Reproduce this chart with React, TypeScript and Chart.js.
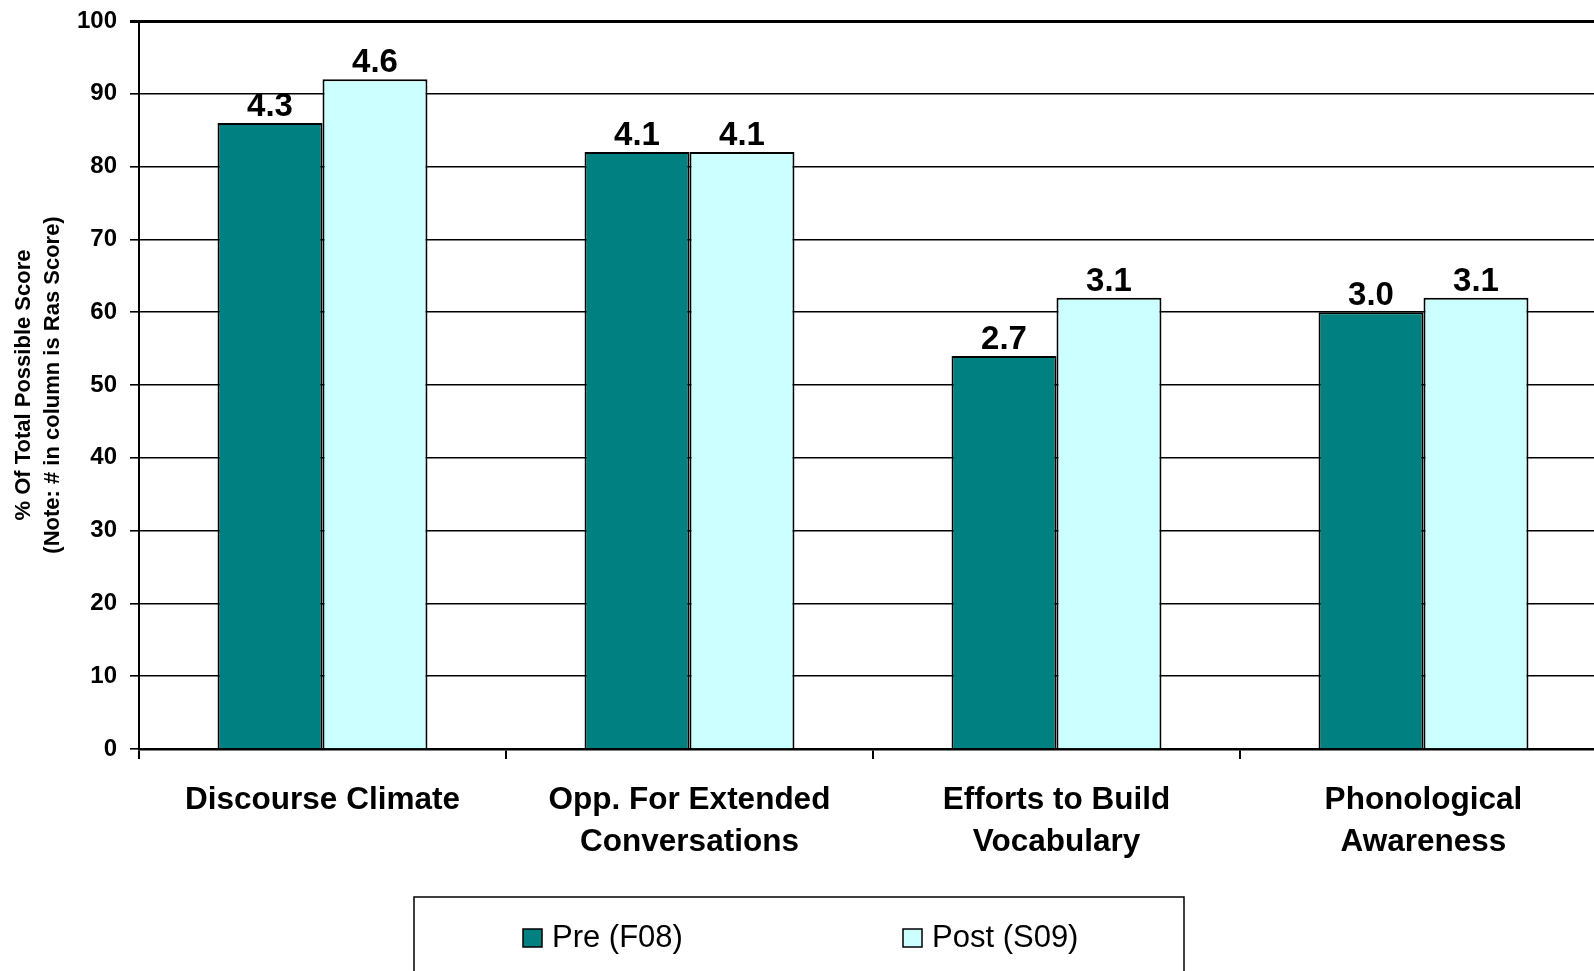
import React, { useEffect, useRef } from "react";
import { Chart, registerables } from "chart.js";

Chart.register(...registerables);

const categories: (string | string[])[] = [
  "Discourse Climate",
  ["Opp. For Extended", "Conversations"],
  ["Efforts to Build", "Vocabulary"],
  ["Phonological", "Awareness"],
];
const seriesNames = ["Pre (F08)", "Post (S09)"];
const preValues = [86, 82, 54, 60];
const postValues = [92, 82, 62, 62];
const preScoreLabels = ["4.3", "4.1", "2.7", "3.0"];
const postScoreLabels = ["4.6", "4.1", "3.1", "3.1"];
const yAxisTitle = ["% Of Total Possible Score", "(Note: # in column is Ras Score)"];
const yMin = 0;
const yMax = 100;
const yStep = 10;

const FONT = '"Liberation Sans", Arial, Helvetica, sans-serif';
const PRE_COLOR = "#008080";
const POST_COLOR = "#CCFFFF";

const valueLabelPlugin = {
  id: "valueLabels",
  afterDatasetsDraw(chart: any) {
    const ctx = chart.ctx;
    ctx.save();
    ctx.font = `bold 33px ${FONT}`;
    ctx.fillStyle = "#000";
    ctx.textAlign = "center";
    ctx.textBaseline = "alphabetic";
    chart.data.datasets.forEach((ds: any, i: number) => {
      const meta = chart.getDatasetMeta(i);
      meta.data.forEach((el: any, j: number) => {
        ctx.fillText(ds.scoreLabels[j], el.x, el.y - 7);
      });
    });
    ctx.restore();
  },
};

const boxedLegendPlugin = {
  id: "boxedLegend",
  afterDraw(chart: any) {
    const ctx = chart.ctx;
    ctx.save();
    const left = 414;
    const top = 897;
    const right = 1184;
    ctx.strokeStyle = "#000";
    ctx.lineWidth = 1.5;
    ctx.strokeRect(left, top, right - left, 120);
    ctx.font = `31px ${FONT}`;
    ctx.textBaseline = "middle";
    ctx.textAlign = "left";
    const cy = 938;
    chart.data.datasets.forEach((ds: any, i: number) => {
      const sx = 523 + i * 380;
      ctx.fillStyle = ds.backgroundColor;
      ctx.fillRect(sx, cy - 9, 19, 18);
      ctx.strokeStyle = "#000";
      ctx.lineWidth = 1.5;
      ctx.strokeRect(sx, cy - 9, 19, 18);
      ctx.fillStyle = "#000";
      ctx.fillText(ds.label, sx + 29, cy);
    });
    ctx.restore();
  },
};

export default function App() {
  const canvasRef = useRef<HTMLCanvasElement | null>(null);

  useEffect(() => {
    document.body.style.margin = "0";
    document.body.style.overflow = "hidden";
    const canvas = canvasRef.current;
    if (!canvas) return;
    const chart = new Chart(canvas, {
      type: "bar",
      data: {
        labels: categories as any,
        datasets: [
          {
            label: seriesNames[0],
            data: preValues,
            backgroundColor: PRE_COLOR,
            borderColor: "#000",
            borderWidth: 2,
            scoreLabels: preScoreLabels,
          } as any,
          {
            label: seriesNames[1],
            data: postValues,
            backgroundColor: POST_COLOR,
            borderColor: "#000",
            borderWidth: 2,
            scoreLabels: postScoreLabels,
          } as any,
        ],
      },
      options: {
        responsive: false,
        animation: false,
        devicePixelRatio: 1,
        layout: { padding: { top: 21, right: 13, left: 0, bottom: 0 } },
        datasets: {
          bar: { categoryPercentage: 0.572, barPercentage: 1.0 },
        },
        plugins: {
          legend: { display: false },
          tooltip: { enabled: false },
          title: { display: false },
        },
        scales: {
          x: {
            type: "category",
            grid: {
              display: true,
              drawOnChartArea: false,
              drawTicks: true,
              tickLength: 10,
              color: "#000",
              lineWidth: 2,
              offset: true,
            },
            border: { display: true, color: "#000", width: 2.5 },
            ticks: {
              color: "#000",
              padding: 20,
              maxRotation: 0,
              autoSkip: false,
              font: { family: FONT, size: 31.5, weight: "bold", lineHeight: "42px" } as any,
            },
            afterFit: (scale: any) => {
              scale.height = 222;
              scale.paddingLeft = 0;
              scale.paddingRight = 0;
            },
          },
          y: {
            type: "linear",
            min: yMin,
            max: yMax,
            ticks: {
              stepSize: yStep,
              color: "#000",
              padding: 13,
              font: { family: FONT, size: 24, weight: "bold" },
            },
            grid: {
              color: "#000",
              lineWidth: (ctx: any) => (ctx.tick && ctx.tick.value === yMax ? 3 : 1.6),
              drawTicks: true,
              tickLength: 9,
            },
            border: { display: true, color: "#000", width: 2 },
            title: {
              display: true,
              text: yAxisTitle,
              color: "#000",
              padding: { top: 9, bottom: 0 },
              font: { family: FONT, size: 22, weight: "bold", lineHeight: "29px" } as any,
            },
            afterFit: (scale: any) => {
              scale.width = 139;
              scale.paddingTop = 0;
              scale.paddingBottom = 0;
            },
          },
        },
      } as any,
      plugins: [valueLabelPlugin, boxedLegendPlugin],
    });
    return () => chart.destroy();
  }, []);

  return (
    <div style={{ width: 1594, height: 971, overflow: "hidden", background: "#fff" }}>
      <canvas
        ref={canvasRef}
        width={1620}
        height={971}
        style={{ display: "block", width: 1620, height: 971 }}
      />
    </div>
  );
}
